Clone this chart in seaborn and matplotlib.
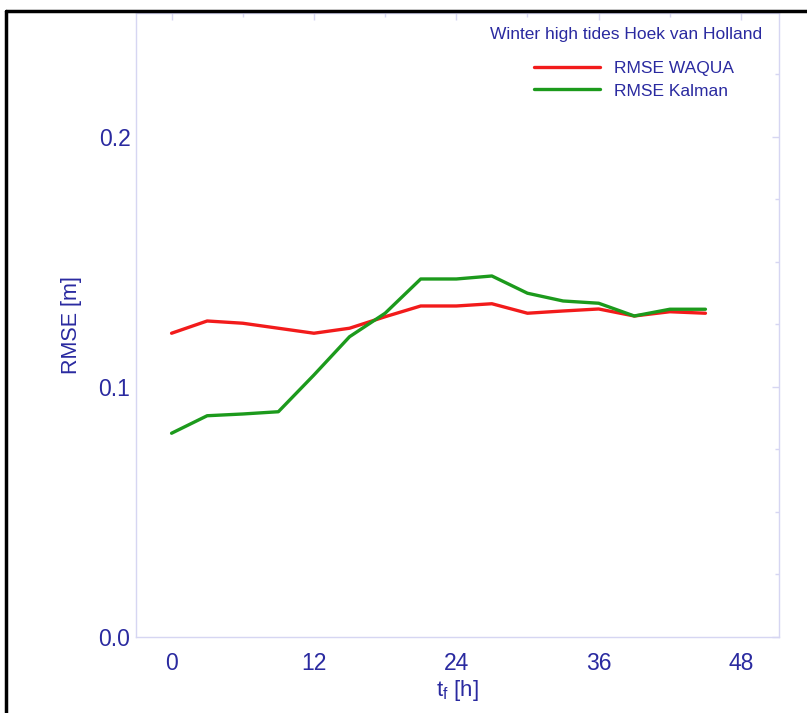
import matplotlib
matplotlib.use("Agg")
import matplotlib.pyplot as plt
from matplotlib.lines import Line2D
from matplotlib.ticker import MultipleLocator
import numpy as np
import pandas as pd
import seaborn as sns

# Forecast horizon (hours) and RMSE of the two forecasts (m)
lead_time = [0, 3, 6, 9, 12, 15, 18, 21, 24, 27, 30, 33, 36, 39, 42, 45]
rmse_waqua = [0.1215, 0.1264, 0.1255, 0.1235, 0.1215, 0.1235, 0.1281, 0.1324,
              0.1324, 0.1333, 0.1295, 0.1304, 0.1312, 0.1284, 0.1301, 0.1295]
rmse_kalman = [0.0815, 0.0885, 0.0892, 0.0901, 0.1048, 0.1201, 0.1295, 0.1432,
               0.1432, 0.1444, 0.1375, 0.1344, 0.1335, 0.1284, 0.1311, 0.1311]
series_names = ["RMSE WAQUA", "RMSE Kalman"]
title_text = "Winter high tides Hoek van Holland"
x_ticks = [0, 12, 24, 36, 48]
y_ticks = [0.0, 0.1, 0.2]

df = pd.DataFrame({
    "t": lead_time * 2,
    "rmse": rmse_waqua + rmse_kalman,
    "series": [series_names[0]] * len(lead_time) + [series_names[1]] * len(lead_time),
})

sns.set_theme(style="white")
plt.rcParams["font.family"] = ["Liberation Sans", "DejaVu Sans"]

navy = "#2a2aa0"
frame = "#d6d6f2"
palette = {series_names[0]: "#f21b1b", series_names[1]: "#1c9a1c"}

fig = plt.figure(figsize=(8.07, 7.13), dpi=100)
ax = fig.add_axes([0.1685, 0.1066, 0.7968, 0.8752])

sns.lineplot(data=df, x="t", y="rmse", hue="series", palette=palette,
             linewidth=2.4, ax=ax, legend=False)

ax.set_xlim(-3, 51.2)
ax.set_ylim(0, 0.2496)
ax.set_xticks(x_ticks)
ax.set_xticklabels([str(v) for v in x_ticks])
ax.set_yticks(y_ticks)
ax.set_yticklabels([f"{v:.1f}" for v in y_ticks])
ax.xaxis.set_minor_locator(MultipleLocator(6))
ax.yaxis.set_minor_locator(MultipleLocator(0.025))

for s in ax.spines.values():
    s.set_color(frame)
    s.set_linewidth(1.0)
ax.tick_params(which="both", direction="in", top=True, right=True,
               color=frame, labelcolor=navy, labelsize=16.5)
ax.tick_params(which="major", length=5, width=1)
ax.tick_params(which="minor", length=3, width=1)
ax.tick_params(axis="x", pad=11)
ax.tick_params(axis="y", pad=4)

ax.set_xlabel("t$_\\mathregular{f}$ [h]", color=navy, fontsize=16, labelpad=2)
ax.set_ylabel("RMSE [m]", color=navy, fontsize=15.5, labelpad=12)

# Legend block: heading plus one entry per series
ax.text(0.974, 0.965, title_text, transform=ax.transAxes, ha="right", va="center",
        color=navy, fontsize=12.5)
handles = [Line2D([], [], color=palette[n], linewidth=2.4) for n in series_names]
leg = ax.legend(handles, series_names, loc="upper right", bbox_to_anchor=(0.955, 0.949),
                frameon=False, handlelength=3.75, handletextpad=0.86, labelspacing=0.45,
                fontsize=12.5)
for t in leg.get_texts():
    t.set_color(navy)

# Black page border on top and left
fig.add_artist(Line2D([6 / 807, 1.0], [1 - 11 / 713, 1 - 11 / 713],
                      transform=fig.transFigure, color="black", linewidth=2.5))
fig.add_artist(Line2D([6 / 807, 6 / 807], [0.0, 1 - 11 / 713],
                      transform=fig.transFigure, color="black", linewidth=2.5))

fig.savefig("out.png", dpi=100, facecolor="white")
